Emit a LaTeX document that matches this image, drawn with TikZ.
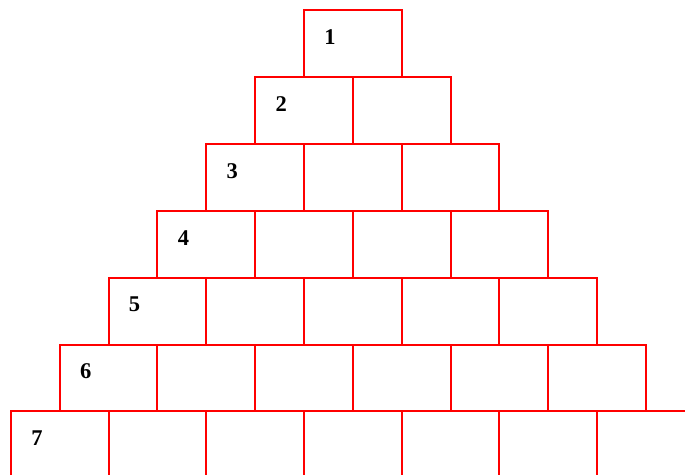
\documentclass[tikz,border=0pt]{standalone}
\usepackage{fontspec}
\setmainfont{Liberation Serif}
\begin{document}
\begin{tikzpicture}[x=1pt,y=-1pt,
 cell/.style={draw=red,line width=2pt,minimum width=97.7pt,minimum height=66.9pt,inner sep=0pt,outer sep=0pt,anchor=north west},
 num/.style={font=\bfseries\fontsize{22.5}{26}\selectfont,inner sep=0pt,anchor=center}]
\useasboundingbox (0,0) rectangle (685,474);
\clip (0,0) rectangle (685,474);
\foreach \r in {1,...,7}{
  \foreach \k in {1,...,\r}{
    \node[cell] (c\r-\k) at ({304-48.85*(\r-1)+97.7*(\k-1)}, {10+66.9*(\r-1)}) {};
  }
  \node[num] (n\r) at ({304-48.85*(\r-1)+26}, {10+66.9*(\r-1)+27}) {\r};
}
\end{tikzpicture}
\end{document}
